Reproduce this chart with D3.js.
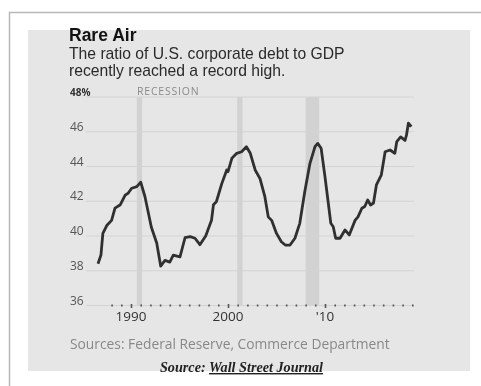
<!DOCTYPE html>
<html>
<head>
<meta charset="utf-8">
<script src="https://cdn.jsdelivr.net/npm/d3@7"></script>
<style>
  body { margin: 0; background: #fff; }
  svg { display: block; filter: blur(0.45px); }
  text { font-family: "Open Sans", "Noto Sans", sans-serif; }
  .head { font-family: "Liberation Sans", Arial, sans-serif; }
</style>
</head>
<body>
<svg id="chart" width="481" height="386"></svg>
<script>
// debt-to-GDP ratio (decimal years)
var years = [1986.6, 1986.9, 1987.1, 1987.5, 1988.0, 1988.35, 1988.9, 1989.4, 1989.7, 1990.07,
  1990.6, 1991.0, 1991.44, 1992.1, 1992.65, 1993.06, 1993.5, 1994.0, 1994.36, 1995.05,
  1995.57, 1996.1, 1996.6, 1997.1, 1997.7, 1998.3, 1998.5, 1998.8, 1999.35, 1999.87,
  2000.0, 2000.4, 2000.9, 2001.4, 2001.9, 2002.3, 2002.8, 2003.3, 2003.8, 2004.15,
  2004.5, 2005.0, 2005.5, 2005.9, 2006.4, 2006.9, 2007.4, 2007.9, 2008.45, 2008.97,
  2009.25, 2009.6, 2010.0, 2010.3, 2010.6, 2010.85, 2011.1, 2011.55, 2012.06, 2012.5,
  2013.1, 2013.4, 2013.8, 2014.1, 2014.4, 2014.7, 2015.0, 2015.3, 2015.8, 2016.2,
  2016.7, 2017.2, 2017.4, 2017.8, 2018.25, 2018.4, 2018.6, 2018.9];
var ratio = [38.4, 38.9, 40.15, 40.6, 40.9, 41.6, 41.8, 42.35, 42.46, 42.75,
  42.84, 43.1, 42.26, 40.5, 39.6, 38.27, 38.6, 38.5, 38.9, 38.8,
  39.9, 39.96, 39.87, 39.5, 40.0, 40.9, 41.8, 41.97, 43.0, 43.8,
  43.7, 44.47, 44.76, 44.85, 45.14, 44.76, 43.8, 43.3, 42.26, 41.1,
  40.9, 40.15, 39.67, 39.48, 39.48, 39.87, 40.73, 42.5, 44.18, 45.14,
  45.33, 45.05, 43.4, 42.07, 40.73, 40.53, 39.87, 39.87, 40.35, 40.06,
  40.9, 41.1, 41.6, 41.7, 42.07, 41.78, 41.9, 42.94, 43.5, 44.85,
  44.95, 44.76, 45.43, 45.7, 45.5, 45.8, 46.5, 46.3];
var recessions = [[1990.6, 1991.15], [2000.95, 2001.5], [2008.0, 2009.4]];
var yTicks = [36, 38, 40, 42, 44, 46, 48];
var xLabelYears = [1990, 2000, 2010];
var xLabels = ["1990", "2000", "'10"];
var tickYears = d3.range(1988, 2020);

var svg = d3.select("#chart");

// card frame + gray panel
svg.append("path").attr("d", "M9.5,386V12.5H481")
  .attr("fill", "none").attr("stroke", "#b8b8b8").attr("stroke-width", 1.5);
svg.append("rect").attr("x", 28).attr("y", 30).attr("width", 442).attr("height", 341)
  .attr("fill", "#e6e6e6");

var x = d3.scaleLinear().domain([1990, 2010]).range([131, 325]);
var y = d3.scaleLinear().domain([36, 48]).range([305.5, 97]);

// title block
svg.append("text").attr("class", "head").attr("x", 69).attr("y", 41).text("Rare Air")
  .attr("font-size", 17.5).attr("font-weight", 700).attr("fill", "#111");
svg.append("text").attr("class", "head").attr("x", 69).attr("y", 58.5)
  .text("The ratio of U.S. corporate debt to GDP")
  .attr("font-size", 15.7).attr("fill", "#2a2a2a");
svg.append("text").attr("class", "head").attr("x", 69).attr("y", 76.3)
  .text("recently reached a record high.")
  .attr("font-size", 15.7).attr("fill", "#2a2a2a");

// recession bands
svg.selectAll("rect.rec").data(recessions).enter().append("rect")
  .attr("class", "rec")
  .attr("x", function (d) { return x(d[0]); })
  .attr("width", function (d) { return x(d[1]) - x(d[0]); })
  .attr("y", y(48)).attr("height", y(36) - y(48))
  .attr("fill", "#d2d2d2");

// gridlines
svg.selectAll("line.grid").data(yTicks).enter().append("line")
  .attr("class", "grid")
  .attr("x1", 86).attr("x2", 414)
  .attr("y1", function (d) { return y(d); }).attr("y2", function (d) { return y(d); })
  .attr("stroke", "#d3d3d3").attr("stroke-width", 1.2);

// y labels
svg.selectAll("text.ylab").data(yTicks).enter().append("text")
  .attr("class", "ylab")
  .attr("x", 70).attr("y", function (d) { return y(d) - 1; })
  .attr("font-size", function (d) { return d === 48 ? 10 : 12; })
  .attr("font-weight", function (d) { return d === 48 ? 700 : 400; })
  .attr("fill", function (d) { return d === 48 ? "#333" : "#555"; })
  .text(function (d) { return d === 48 ? d + "%" : d; });

svg.append("text").attr("x", 137).attr("y", y(48) - 2).text("RECESSION")
  .attr("font-size", 10.5).attr("letter-spacing", 0.8).attr("fill", "#8a8a8a");

// x axis: yearly tick dots, decade labels
var xAxis = svg.append("g").attr("transform", "translate(0,304)")
  .call(d3.axisBottom(x).tickValues(tickYears).tickSize(2.5).tickFormat(""));
xAxis.select(".domain").remove();
xAxis.selectAll(".tick line").attr("stroke", "#555").attr("stroke-width", 1.6)
  .attr("y1", function (d) { return xLabelYears.indexOf(d) >= 0 ? 0 : 0.5; })
  .attr("y2", function (d) { return xLabelYears.indexOf(d) >= 0 ? 4 : 2.5; });

svg.selectAll("text.xlab").data(xLabelYears).enter().append("text")
  .attr("class", "xlab")
  .attr("x", function (d) { return x(d); }).attr("y", 321)
  .attr("text-anchor", "middle").attr("font-size", 13.5).attr("fill", "#333")
  .text(function (d, i) { return xLabels[i]; });

// the series
var line = d3.line()
  .x(function (d, i) { return x(years[i]); })
  .y(function (d) { return y(d); });
svg.append("path").datum(ratio).attr("d", line)
  .attr("fill", "none").attr("stroke", "#303030").attr("stroke-width", 2.8)
  .attr("stroke-linejoin", "round");

// sources
svg.append("text").attr("x", 70).attr("y", 349)
  .text("Sources: Federal Reserve, Commerce Department")
  .attr("font-size", 13.8).attr("fill", "#888");
var src = svg.append("text").attr("x", 241.5).attr("y", 372).attr("text-anchor", "middle")
  .attr("font-size", 14.2).attr("font-style", "italic").attr("font-weight", 700)
  .attr("fill", "#222").style("font-family", "'Liberation Serif', 'DejaVu Serif', serif");
src.append("tspan").text("Source: ");
src.append("tspan").text("Wall Street Journal").attr("text-decoration", "underline");
</script>
</body>
</html>
